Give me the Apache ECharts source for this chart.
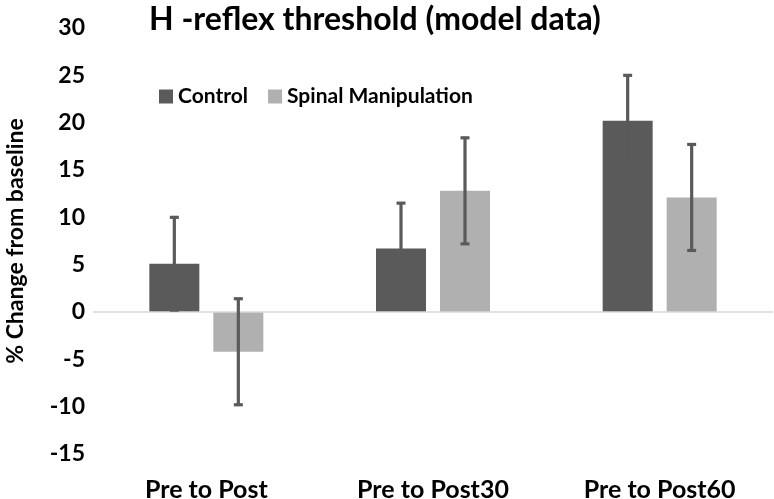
<!DOCTYPE html>
<html>
<head>
<meta charset="utf-8">
<script src="https://cdn.jsdelivr.net/npm/echarts@6/dist/echarts.min.js"></script>
<style>html,body{margin:0;padding:0;background:#fff}#c{width:774px;height:499px}</style>
</head>
<body>
<div id="c"></div>
<script>
const categories = ['Pre to Post', 'Pre to Post30', 'Pre to Post60'];
const controlValues = [5.1, 6.7, 20.2];
const controlErrors = [4.9, 4.8, 4.8];
const spinalValues = [-4.2, 12.8, 12.1];
const spinalErrors = [5.6, 5.6, 5.6];
const yTicks = { min: -15, max: 30, interval: 5 };

const FONT = 'Lato, "Open Sans", sans-serif';
const DARK = '#5a5a5a';
const LIGHT = '#b0b0b0';
const BAR_W = 50;
const HALF_OFFSET = 32;

function errorSeries(name, values, errors, offset) {
  return {
    type: 'custom',
    name: name + ' error',
    z: 10,
    silent: true,
    encode: { x: 0, y: 1 },
    data: categories.map((c, i) => [i, values[i], errors[i]]),
    renderItem: function (params, api) {
      const xi = api.value(0), v = api.value(1), e = api.value(2);
      const top = api.coord([xi, v + e]);
      const bot = api.coord([xi, v - e]);
      const x = top[0] + offset;
      const style = { stroke: DARK, lineWidth: 3.2 };
      const capW = 4.5;
      return {
        type: 'group',
        children: [
          { type: 'line', shape: { x1: x, y1: top[1], x2: x, y2: bot[1] }, style: style },
          { type: 'line', shape: { x1: x - capW, y1: top[1], x2: x + capW, y2: top[1] }, style: style },
          { type: 'line', shape: { x1: x - capW, y1: bot[1], x2: x + capW, y2: bot[1] }, style: style }
        ]
      };
    }
  };
}

const chart = echarts.init(document.getElementById('c'), null, { renderer: 'canvas' });
chart.setOption({
  animation: false,
  backgroundColor: '#fff',
  textStyle: { fontFamily: FONT },
  title: {
    text: 'H -reflex threshold (model data)',
    left: 144, top: -1,
    textStyle: { fontFamily: FONT, fontSize: 32, fontWeight: 'bold', color: '#000' }
  },
  legend: {
    data: ['Control', 'Spinal Manipulation'],
    left: 154, top: 81,
    icon: 'rect', itemWidth: 14, itemHeight: 14, itemGap: 20,
    textStyle: { fontFamily: FONT, fontSize: 21, fontWeight: 'bold', color: '#000' }
  },
  grid: { left: 93, right: 1, top: 28, bottom: 45, containLabel: false, outerBoundsMode: 'none' },
  xAxis: {
    type: 'category',
    data: categories,
    axisLine: { show: false, onZero: false },
    axisTick: { show: false },
    axisLabel: { fontFamily: FONT, fontSize: 25, fontWeight: 'bold', color: '#000', margin: 23 }
  },
  yAxis: {
    type: 'value',
    min: yTicks.min, max: yTicks.max, interval: yTicks.interval,
    name: '% Change from baseline',
    nameLocation: 'middle', nameGap: 66,
    nameMoveOverlap: false,
    nameTextStyle: { fontFamily: FONT, fontSize: 23, fontWeight: 'bold', color: '#000' },
    axisLine: { show: false },
    axisTick: { show: false },
    splitLine: { show: false },
    axisLabel: { fontFamily: FONT, fontSize: 23, fontWeight: 'bold', color: '#000', margin: 8 }
  },
  series: [
    {
      name: 'Control', type: 'bar', data: controlValues,
      barWidth: BAR_W, barGap: '28%',
      itemStyle: { color: DARK },
      markLine: {
        silent: true, symbol: 'none', label: { show: false },
        lineStyle: { color: '#d9d9d9', width: 1.5, type: 'solid' },
        data: [{ yAxis: 0 }]
      }
    },
    {
      name: 'Spinal Manipulation', type: 'bar', data: spinalValues,
      barWidth: BAR_W,
      itemStyle: { color: LIGHT }
    },
    errorSeries('Control', controlValues, controlErrors, -HALF_OFFSET),
    errorSeries('Spinal Manipulation', spinalValues, spinalErrors, HALF_OFFSET)
  ]
});
</script>
</body>
</html>
